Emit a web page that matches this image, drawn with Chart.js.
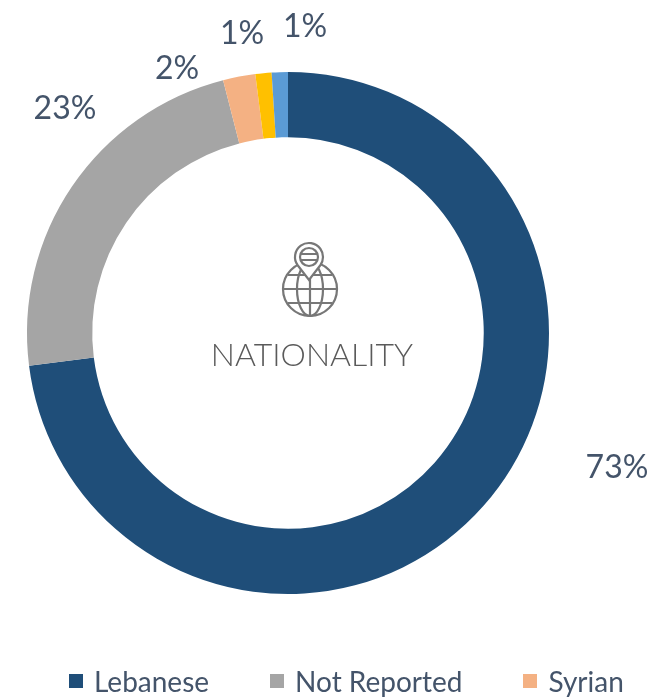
<!DOCTYPE html>
<html>
<head>
<meta charset="utf-8">
<script src="https://cdn.jsdelivr.net/npm/chart.js@4"></script>
<style>
  html, body { margin: 0; padding: 0; background: #fff; }
  #wrap { position: relative; width: 654px; height: 699px; overflow: hidden; filter: blur(0.6px); }
  #legend { position: absolute; left: 69px; top: 663px; display: flex; font: 28px/36px Lato; color: #44546A; white-space: nowrap; }
  #legend .item { display: flex; align-items: center; margin-right: 61px; }
  #legend .box { width: 14px; height: 14px; margin-right: 11px; }
</style>
</head>
<body>
<div id="wrap">
  <canvas id="nationalityChart"></canvas>
  <div id="legend"></div>
</div>
<script>
const categories = ['Lebanese', 'Not Reported', 'Syrian', 'Other Arab', 'Other'];
const shares = [73, 23, 2, 1, 1];
const sliceColors = ['#1F4E79', '#A5A5A5', '#F4B183', '#FFC000', '#5B9BD5'];
const legendCount = 3;
const centerTitle = 'NATIONALITY';

// label anchors, these were dragged by hand in the original so they are not radial
const labelAnchors = [[617, 468], [65, 109], [177, 69], [242, 34], [305, 27]];

const sliceLabels = {
  id: 'sliceLabels',
  afterDatasetsDraw(chart) {
    const ctx = chart.ctx;
    ctx.save();
    ctx.font = '32px Lato';
    ctx.fillStyle = '#44546A';
    ctx.textAlign = 'center';
    ctx.textBaseline = 'middle';
    shares.forEach((v, i) => ctx.fillText(v + '%', labelAnchors[i][0], labelAnchors[i][1]));
    ctx.restore();
  }
};

const centerBadge = {
  id: 'centerBadge',
  afterDatasetsDraw(chart) {
    const ctx = chart.ctx;
    ctx.save();
    ctx.font = '300 32px Lato';
    ctx.fillStyle = '#5A5A5A';
    ctx.textAlign = 'center';
    ctx.textBaseline = 'middle';
    ctx.fillText(centerTitle, 312, 356);

    // globe with pin
    const gx = 310, gy = 289, r = 27;
    ctx.strokeStyle = '#777777';
    ctx.lineWidth = 2.2;
    ctx.beginPath(); ctx.arc(gx, gy, r, 0, Math.PI * 2); ctx.stroke();
    ctx.beginPath(); ctx.ellipse(gx, gy, 13, r, 0, 0, Math.PI * 2); ctx.stroke();
    ctx.beginPath();
    ctx.moveTo(gx, gy - r); ctx.lineTo(gx, gy + r);
    ctx.moveTo(gx - r, gy); ctx.lineTo(gx + r, gy);
    ctx.moveTo(gx - 22, gy - 14); ctx.lineTo(gx + 22, gy - 14);
    ctx.moveTo(gx - 22, gy + 14); ctx.lineTo(gx + 22, gy + 14);
    ctx.stroke();

    const px = 309, py = 257;
    ctx.fillStyle = '#fff';
    ctx.beginPath();
    ctx.arc(px, py, 14, Math.PI * 0.8, Math.PI * 0.2);
    ctx.lineTo(px, py + 23);
    ctx.closePath();
    ctx.fill();
    ctx.stroke();
    ctx.beginPath(); ctx.arc(px, py, 9, 0, Math.PI * 2); ctx.stroke();
    ctx.beginPath();
    ctx.moveTo(px - 8, py - 3); ctx.lineTo(px + 8, py - 3);
    ctx.moveTo(px - 8, py + 3); ctx.lineTo(px + 8, py + 3);
    ctx.stroke();
    ctx.restore();
  }
};

const chart = new Chart(document.getElementById('nationalityChart'), {
  type: 'doughnut',
  data: {
    labels: categories,
    datasets: [{
      data: shares,
      backgroundColor: sliceColors,
      borderWidth: 0
    }]
  },
  options: {
    responsive: true,
    maintainAspectRatio: false,
    animation: false,
    cutout: '75%',
    layout: { padding: { left: 27, right: 105, top: 72, bottom: 105 } },
    plugins: {
      tooltip: { enabled: false },
      legend: { display: false }
    }
  },
  plugins: [sliceLabels, centerBadge]
});

// html legend, only the first three entries fit in the original
const legendEl = document.getElementById('legend');
chart.data.labels.slice(0, legendCount).forEach((name, i) => {
  const item = document.createElement('div');
  item.className = 'item';
  item.innerHTML = `<span class="box" style="background:${sliceColors[i]}"></span><span>${name}</span>`;
  legendEl.appendChild(item);
});
</script>
</body>
</html>
